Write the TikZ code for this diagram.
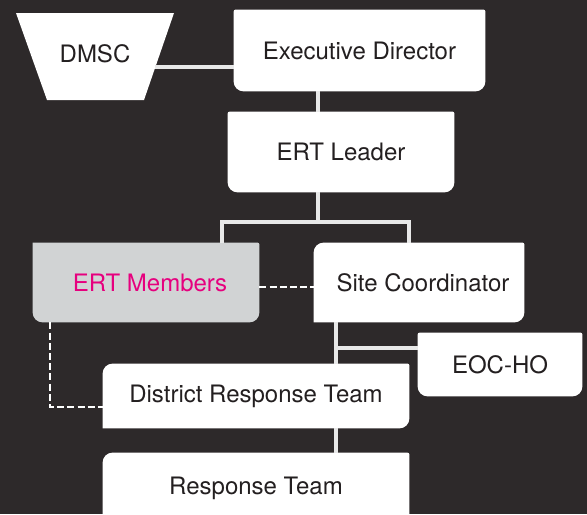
\documentclass[tikz,border=0pt]{standalone}
\usepackage{fontspec}
\setmainfont{TeX Gyre Heros}
\usetikzlibrary{backgrounds}

\definecolor{bg}{HTML}{2D292A}
\definecolor{wire}{HTML}{E8E8E8}
\definecolor{ink}{HTML}{231F20}
\definecolor{memfill}{HTML}{D1D3D4}
\definecolor{pink}{HTML}{E6007E}

\tikzset{
  box/.style={inner sep=0pt, text=ink, font=\fontsize{12}{14}\selectfont},
  link/.style={draw=wire, line width=1.8pt},
  dash link/.style={draw=white, line width=1pt, dash pattern=on 3.5pt off 1.6pt},
}

% fill behind a box, one radius per corner: ne, se, sw, nw
\newcommand\paintbox[6]{%
  \fill[#2] (#1.north) [rounded corners=#3] -- (#1.north east)
    [rounded corners=#4] -- (#1.south east)
    [rounded corners=#5] -- (#1.south west)
    [rounded corners=#6] -- (#1.north west) [sharp corners] -- cycle;}

\begin{document}
\begin{tikzpicture}[x=0.5pt, y=-0.5pt]
 \useasboundingbox (0,0) rectangle (587,514);

 \node[box] (dmsc) at (95,54) {DMSC};
 \node[box, minimum width=125.5pt, minimum height=40.5pt] (exec) at (359.5,50.5) {Executive Director};
 \node[box, minimum width=113pt, minimum height=40pt] (lead) at (341,152) {ERT Leader};
 \node[box, minimum width=113pt, minimum height=39.5pt, text=pink] (memb) at (146,282.5) {\hspace*{4pt}ERT Members};
 \node[box, minimum width=105pt, minimum height=39.5pt] (site) at (419,282.5) {\hspace*{4pt}Site Coordinator};
 \node[box, minimum width=82pt, minimum height=31.5pt] (eoc) at (500,364.5) {EOC-HO};
 \node[box, minimum width=153pt, minimum height=32pt] (drt) at (256,396) {District Response Team};
 \node[box, minimum width=153pt, minimum height=35pt] (resp) at (256,488) {Response Team};

 \begin{pgfonlayer}{background}
  \fill[bg] (0,0) rectangle (587,514);
  \fill[white] (16,13) -- (174,13) -- (144,100) -- (47,100) -- cycle;
  \paintbox{exec}{white}{1pt}{5pt}{5pt}{1pt}
  \paintbox{lead}{white}{1pt}{5pt}{5pt}{1pt}
  \paintbox{memb}{memfill}{1pt}{5pt}{5pt}{0.1pt}
  \paintbox{site}{white}{1pt}{5pt}{0.1pt}{5pt}
  \paintbox{eoc}{white}{1pt}{5pt}{5pt}{1pt}
  \paintbox{drt}{white}{1pt}{5pt}{0.1pt}{5pt}
  \paintbox{resp}{white}{1pt}{5pt}{0.1pt}{5pt}
 \end{pgfonlayer}

 \coordinate (dm) at (155,67);
 \coordinate (t1) at (318,222);
 \coordinate (barl) at (222,222);
 \coordinate (barr) at (409,222);
 \coordinate (t2) at (336,348);
 \coordinate (dl) at (50,407);

 \draw[link] (dm) -- (dm -| exec.west);
 \draw[link] (exec.south -| t1) -- (lead.north -| t1);
 \draw[link] (lead.south -| t1) -- (t1);
 \draw[link] (memb.north -| barl) -- (barl) -- (barr) -- (site.north -| barr);
 \draw[link] (site.south -| t2) -- (drt.north -| t2);
 \draw[link] (t2) -- (t2 -| eoc.west);
 \draw[link] (drt.south -| t2) -- (resp.north -| t2);

 \draw[dash link] ([yshift=-2.25pt]memb.east) -- ([yshift=-2.25pt]site.west);
 \draw[dash link] (memb.south -| dl) |- (drt.west |- dl);
\end{tikzpicture}
\end{document}
